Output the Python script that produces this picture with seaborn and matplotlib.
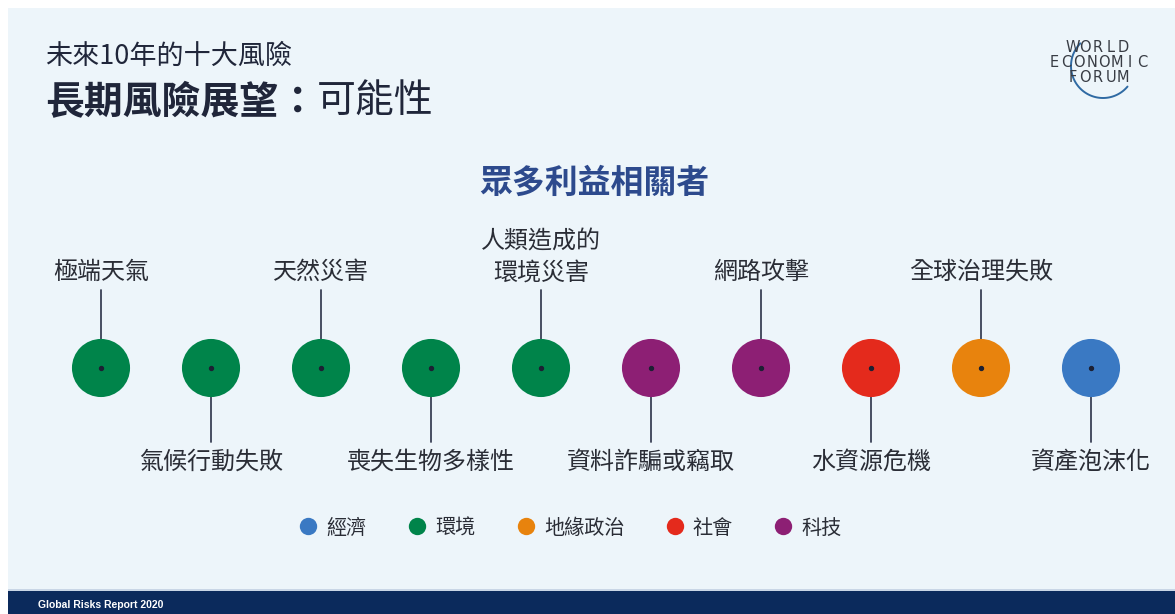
import numpy as np
import pandas as pd
import matplotlib
matplotlib.use('Agg')
import matplotlib.pyplot as plt
from matplotlib.patches import Rectangle
import seaborn as sns

# --- data ---
risks = ['極端天氣', '氣候行動失敗', '天然災害', '喪失生物多樣性', '人類造成的\n環境災害',
         '資料詐騙或竊取', '網路攻擊', '水資源危機', '全球治理失敗', '資產泡沫化']
categories = ['環境', '環境', '環境', '環境', '環境', '科技', '科技', '社會', '地緣政治', '經濟']
label_side = ['top', 'bottom', 'top', 'bottom', 'top', 'bottom', 'top', 'bottom', 'top', 'bottom']
hue_order = ['經濟', '環境', '地緣政治', '社會', '科技']
palette = {'經濟': '#3A79C3', '環境': '#00844A', '地緣政治': '#E8830D',
           '社會': '#E42A1C', '科技': '#8D1F74'}

df = pd.DataFrame({'rank': np.arange(len(risks)), 'risk': risks,
                   'cat': categories, 'side': label_side})
df['y'] = 368

sns.set_theme(style='white')
plt.rcParams['font.family'] = ['Noto Sans CJK TC', 'DejaVu Sans']

W, H = 1175, 614
fig = plt.figure(figsize=(W / 100, H / 100), dpi=100)
fig.patch.set_facecolor('white')

# background / decoration axes in pixel coords
bg = fig.add_axes([0, 0, 1, 1], zorder=0)
bg.set_xlim(0, W); bg.set_ylim(H, 0); bg.axis('off')
bg.add_patch(Rectangle((8, 8), W - 8, 581, color='#EDF5FA', lw=0))
bg.add_patch(Rectangle((8, 589), W - 8, 2, color='#C9D6E6', lw=0))
bg.add_patch(Rectangle((8, 591), W - 8, H - 591, color='#0B2A5C', lw=0))
bg.text(38, 605, 'Global Risks Report 2020', color='white', fontsize=7.5,
        family='Liberation Sans', weight='bold', va='center', ha='left')

tc = '#20263A'
bg.text(45, 56, '未來10年的十大風險', fontsize=19.5, color=tc, va='center', ha='left')
t1 = bg.text(45, 102, '長期風險展望：', fontsize=28, weight='bold', color=tc,
             va='center', ha='left')
bg.annotate('可能性', xy=(1, 0), xycoords=t1, fontsize=28, color=tc,
            va='bottom', ha='left')
bg.text(594, 183, '眾多利益相關者', fontsize=23.7, weight='bold', color='#2D4A8D',
        va='center', ha='center')

# WEF logo
for j, word in enumerate(['WORLD', 'ECONOMIC', 'FORUM']):
    n = len(word)
    for k, ch in enumerate(word):
        bg.text(1098 + (k - (n - 1) / 2) * 12.6, 47 + j * 15.3, ch, fontsize=10.5,
                family='DejaVu Sans', color='#383C44', ha='center', va='center')
th = np.radians(np.linspace(225, 40, 80))
bg.plot(1103 + 32 * np.cos(th), 66 + 32 * np.sin(th),
        color='#2F6AA3', lw=1.4, solid_capstyle='round')

# data axes: x in rank units, y in pixels
ax = fig.add_axes([0, 0, 1, 1], zorder=1)
ax.patch.set_alpha(0)
step, x0 = 110, 101
ax.set_xlim(-x0 / step, (W - x0) / step)
ax.set_ylim(H, 0)
ax.axis('off')

# leader lines
for _, r in df.iterrows():
    if r['side'] == 'top':
        ax.plot([r['rank'], r['rank']], [290, r['y']], color='#3A4155', lw=1.3, zorder=1)
    else:
        ax.plot([r['rank'], r['rank']], [r['y'], 442], color='#3A4155', lw=1.3, zorder=1)

sns.scatterplot(data=df, x='rank', y='y', hue='cat', hue_order=hue_order,
                palette=palette, s=1750, linewidth=0, ax=ax, zorder=2)
ax.scatter(df['rank'], df['y'], s=8, color='#1C2033', zorder=3)

for _, r in df.iterrows():
    nl = r['risk'].count('\n')
    yy = 272 - 15 * nl if r['side'] == 'top' else 462
    ax.text(r['rank'], yy, r['risk'], fontsize=17.3, color='#2A2D36', ha='center',
            va='center', linespacing=1.25)

handles, labels = ax.get_legend_handles_labels()
for h in handles:
    h.set_markersize(12.5)
    h.set_markeredgewidth(0)
ax.legend(handles, labels, ncol=5, loc='center', bbox_to_anchor=(0.486, 1 - 528 / H),
          frameon=False, fontsize=14.5, handlelength=0.8, handletextpad=0.5,
          columnspacing=2.1, labelcolor='#2A2D36')

fig.savefig('out.png', dpi=100)
